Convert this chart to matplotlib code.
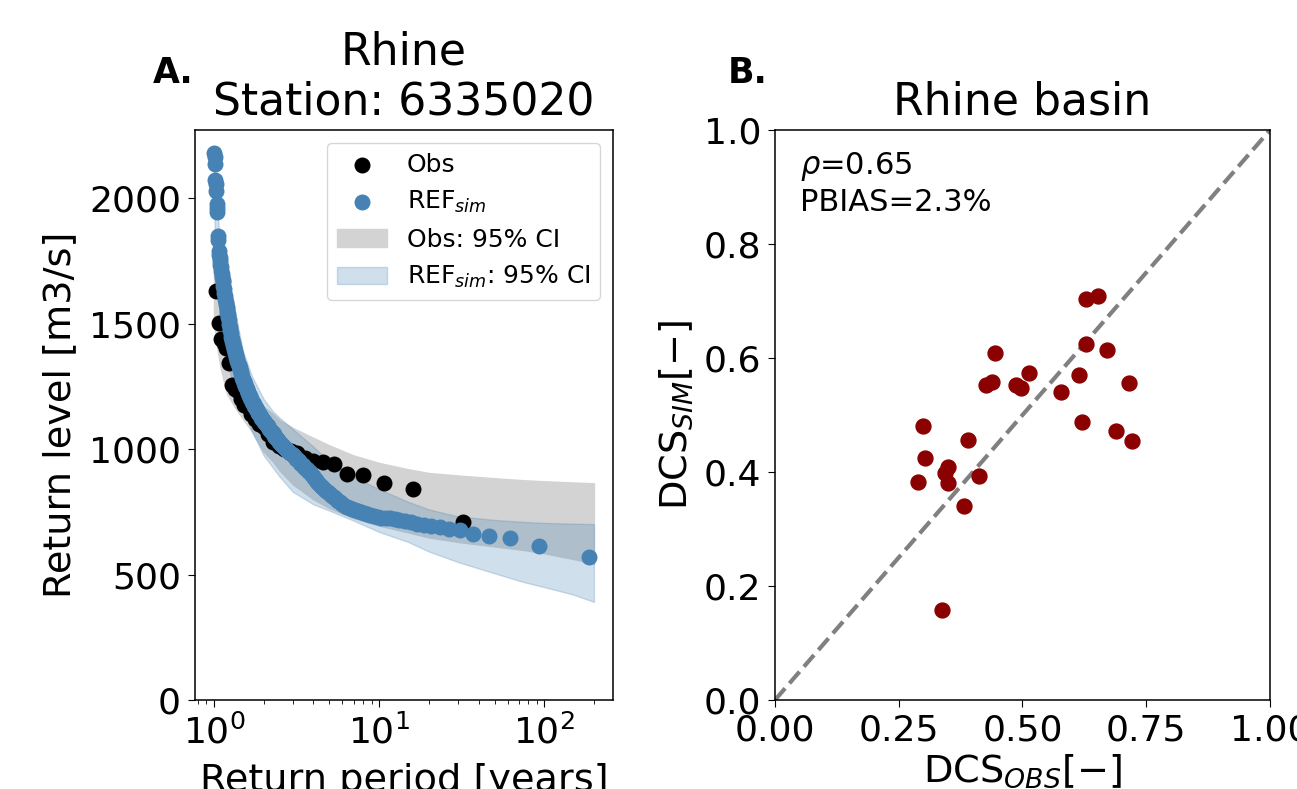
import numpy as np
import matplotlib.pyplot as plt

# ---- Panel A: return level curves (Rhine, station 6335020) ----
# observed annual values, sorted high -> low (31 years)
obs_values = [1630, 1504, 1440, 1425, 1405, 1345, 1255, 1240, 1232, 1200,
              1175, 1166, 1140, 1120, 1100, 1087, 1060, 1030, 1012, 1000,
              992, 985, 965, 952, 948, 942, 900, 897, 864, 841, 709]

# simulated (REF) values, sorted high -> low (185 years)
sim_values = [2182, 2165, 2135, 2072, 2055, 2030, 1978, 1960, 1945, 1848,
              1835, 1790, 1775, 1760, 1748, 1735, 1725, 1712, 1700, 1688,
              1676, 1665, 1652, 1638, 1624, 1610, 1598, 1588, 1578, 1568,
              1558, 1548, 1538, 1526, 1513, 1500, 1487, 1474, 1461, 1448,
              1440, 1432, 1424, 1416, 1408, 1400, 1392, 1384, 1376, 1368,
              1360, 1352, 1344, 1337, 1330, 1322, 1315, 1308, 1300, 1292,
              1284, 1276, 1270, 1264, 1258, 1252, 1246, 1240, 1234, 1228,
              1222, 1216, 1210, 1204, 1198, 1193, 1188, 1183, 1178, 1173,
              1168, 1163, 1158, 1154, 1148, 1144, 1140, 1135, 1130, 1126,
              1122, 1117, 1113, 1108, 1104, 1100, 1096, 1091, 1087, 1082,
              1077, 1073, 1068, 1064, 1059, 1054, 1049, 1045, 1040, 1035,
              1030, 1025, 1020, 1016, 1012, 1008, 1004, 1000, 996, 992,
              988, 984, 980, 975, 971, 967, 962, 957, 952, 946,
              941, 935, 930, 925, 919, 914, 907, 900, 893, 886,
              878, 870, 862, 855, 848, 841, 834, 828, 821, 815,
              808, 801, 794, 788, 781, 775, 769, 765, 761, 757,
              753, 749, 745, 741, 737, 733, 729, 727, 725, 724,
              723, 718, 714, 709, 703, 698, 692, 688, 683, 676,
              663, 652, 647, 612, 570]

# 95% confidence bands, read at these return periods
ci_periods = [1.0, 1.05, 1.1, 1.2, 1.33, 1.5, 1.7, 2, 2.28, 2.5, 3, 4, 5, 7,
              10, 15, 20, 30, 50, 75, 100, 150, 200]
obs_ci_low = [1500, 1400, 1320, 1220, 1170, 1120, 1070, 990, 950, 915, 860,
              800, 765, 725, 695, 668, 648, 630, 612, 598, 585, 562, 543]
obs_ci_high = [1700, 1600, 1520, 1430, 1360, 1290, 1230, 1170, 1140, 1115,
               1085, 1045, 1015, 975, 945, 920, 905, 895, 884, 876, 872, 867, 864]
sim_ci_low = [1950, 1650, 1480, 1350, 1240, 1160, 1070, 975, 925, 890, 830,
              780, 755, 715, 670, 630, 592, 550, 505, 470, 450, 420, 391]
sim_ci_high = [2150, 1950, 1790, 1660, 1560, 1390, 1290, 1200, 1150, 1125,
               1080, 1010, 950, 890, 840, 790, 760, 732, 718, 710, 706, 703, 701]

# ---- Panel B: DCS obs vs sim for the Rhine basin ----
dcs_obs = [0.628, 0.653, 0.444, 0.628, 0.670, 0.513, 0.614, 0.715, 0.426,
           0.439, 0.487, 0.496, 0.578, 0.300, 0.620, 0.689, 0.721, 0.389,
           0.304, 0.350, 0.343, 0.350, 0.288, 0.412, 0.382, 0.338]
dcs_sim = [0.703, 0.708, 0.609, 0.625, 0.614, 0.573, 0.570, 0.556, 0.553,
           0.558, 0.553, 0.547, 0.540, 0.481, 0.488, 0.472, 0.454, 0.457,
           0.424, 0.409, 0.398, 0.380, 0.382, 0.393, 0.341, 0.158]
rho = 0.65
pbias = 2.3

# return periods from Weibull plotting position
n_obs = len(obs_values)
n_sim = len(sim_values)
T_obs = (n_obs + 1) / (n_obs + 1 - np.arange(1, n_obs + 1))
T_sim = (n_sim + 1) / (n_sim + 1 - np.arange(1, n_sim + 1))

plt.rcParams["axes.linewidth"] = 1.1

fig = plt.figure(figsize=(12.97, 7.89), dpi=100)
ax1 = fig.add_axes([0.1503, 0.1128, 0.3223, 0.7224])
ax2 = fig.add_axes([0.5975, 0.1128, 0.3817, 0.7224])

fs_tick = 26
fs_label = 27.5
fs_title = 31.8

# left panel
ci_obs = ax1.fill_between(ci_periods, obs_ci_low, obs_ci_high, color="lightgray",
                          label="Obs: 95% CI")
ci_sim = ax1.fill_between(ci_periods, sim_ci_low, sim_ci_high, color="steelblue",
                          alpha=0.25, label="REF$_{sim}$: 95% CI")
sc_obs = ax1.scatter(T_obs, obs_values, s=110, color="black", label="Obs")
sc_sim = ax1.scatter(T_sim, sim_values, s=110, color="steelblue", label="REF$_{sim}$")
ax1.set_xscale("log")
ax1.set_ylim(0, 2272)
ax1.set_yticks([0, 500, 1000, 1500, 2000])
ax1.set_xlabel("Return period [years]", fontsize=fs_label, labelpad=9)
ax1.set_ylabel("Return level [m3/s]", fontsize=fs_label, labelpad=8)
ax1.set_title("Rhine\nStation: 6335020", fontsize=fs_title, pad=11)
ax1.tick_params(labelsize=fs_tick, length=5, pad=5)
ax1.tick_params(which="minor", length=3)
ax1.legend(handles=[sc_obs, sc_sim, ci_obs, ci_sim], loc="upper right",
           fontsize=18, scatterpoints=1)

# right panel
ax2.plot([0, 1], [0, 1], linestyle="--", color="grey", linewidth=3)
ax2.scatter(dcs_obs, dcs_sim, s=115, color="darkred", zorder=3)
ax2.set_xlim(0, 1)
ax2.set_ylim(0, 1)
ax2.set_xticks([0, 0.25, 0.5, 0.75, 1.0])
ax2.set_yticks([0, 0.2, 0.4, 0.6, 0.8, 1.0])
ax2.set_xlabel("DCS$_{OBS}[-]$", fontsize=fs_label, labelpad=3)
ax2.set_ylabel("DCS$_{SIM}[-]$", fontsize=fs_label, labelpad=6)
ax2.set_title("Rhine basin", fontsize=fs_title, pad=11)
ax2.tick_params(labelsize=fs_tick, length=5, pad=5)
ax2.text(0.05, 0.965, r"$\rho$=" + f"{rho}\nPBIAS={pbias}%", transform=ax2.transAxes,
         va="top", ha="left", fontsize=22)

# panel letters
fig.text(0.118, 0.908, "A.", fontsize=25, fontweight="bold", va="center")
fig.text(0.561, 0.908, "B.", fontsize=25, fontweight="bold", va="center")

fig.savefig("out.png", dpi=100)
